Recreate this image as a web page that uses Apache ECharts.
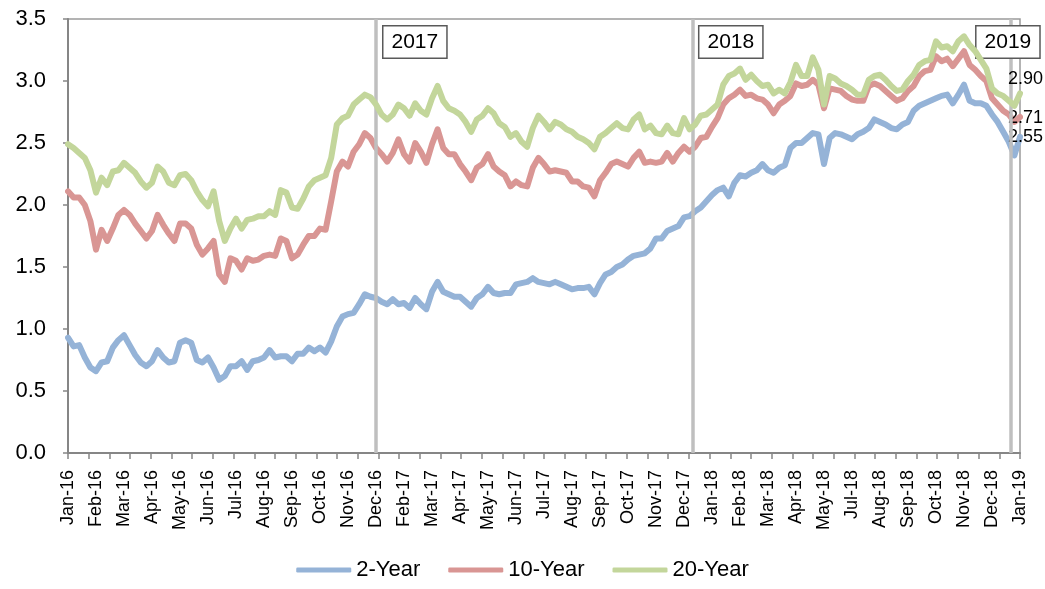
<!DOCTYPE html>
<html>
<head>
<meta charset="utf-8">
<script src="https://cdn.jsdelivr.net/npm/echarts@6/dist/echarts.min.js"></script>
<style>
  html, body { margin: 0; padding: 0; background: #fff; }
  #chart { width: 1045px; height: 589px; }
</style>
</head>
<body>
<div id="chart"></div>
<script>
// ---- data ----
const seriesNames = ['2-Year', '10-Year', '20-Year'];

const tickLabels = ['Jan-16','Feb-16','Mar-16','Apr-16','May-16','Jun-16','Jul-16','Aug-16','Sep-16','Oct-16','Nov-16','Dec-16',
  'Feb-17','Mar-17','Apr-17','May-17','Jun-17','Jul-17','Aug-17','Sep-17','Oct-17','Nov-17','Dec-17',
  'Jan-18','Feb-18','Mar-18','Apr-18','May-18','Jul-18','Aug-18','Sep-18','Oct-18','Nov-18','Dec-18','Jan-19'];

const minorTickCount = 47;

const yearNames = ['2017', '2018', '2019'];
const yearStartIndex = [55.0, 111.6, 168.4];

const twoYear = [
  0.93,0.86,0.87,0.77,0.69,0.66,0.73,0.74,0.85,0.91, 0.95,0.87,0.79,0.73,0.70,0.74,0.83,0.77,0.73,0.74,
  0.89,0.91,0.89,0.75,0.73,0.77,0.69,0.59,0.62,0.70, 0.70,0.74,0.67,0.74,0.75,0.77,0.83,0.77,0.78,0.78,
  0.74,0.80,0.80,0.85,
  0.82,0.85,0.81,0.90,1.02,1.10,1.12,1.13,1.20,1.28, 1.26,1.25,1.22,1.20,1.24,1.20,1.21,1.17,1.25,1.20,
  1.16,1.30,1.38,1.30,1.28,1.26,1.26,1.22,1.18,1.25, 1.28,1.34,1.29,1.28,1.29,1.29,1.36,1.37,1.38,1.41,
  1.38,1.37,1.36,
  1.38,1.36,1.34,1.32,1.33,1.33,1.34,1.28,1.37,1.44, 1.46,1.50,1.52,1.56,1.59,1.60,1.61,1.65,1.73,1.73,
  1.79,1.81,1.83,1.90,1.91,1.95,1.98,2.03,2.08,2.12, 2.14,2.07,2.18,2.24,2.23,2.26,2.28,2.33,2.28,2.26,
  2.30,
  2.32,2.46,2.50,2.50,2.54,2.58,2.57,2.33,2.54,2.58, 2.57,2.55,2.53,2.57,2.59,2.62,2.69,2.67,2.65,2.62,
  2.61,2.65,2.67,2.76,2.80,2.82,2.84,2.86,2.88,2.89, 2.82,2.89,2.97,2.84,2.82,2.82,2.80,2.73,2.67,2.59,
  2.51,2.40,2.55
];

const tenYear = [
  2.11,2.06,2.06,2.00,1.87,1.64,1.80,1.71,1.81,1.92, 1.96,1.92,1.85,1.79,1.73,1.79,1.92,1.84,1.77,1.71,
  1.85,1.85,1.81,1.68,1.60,1.65,1.71,1.44,1.38,1.57, 1.55,1.48,1.57,1.55,1.56,1.59,1.60,1.59,1.73,1.71,
  1.57,1.60,1.68,1.75,
  1.75,1.81,1.80,2.03,2.27,2.35,2.31,2.43,2.49,2.58, 2.54,2.46,2.41,2.35,2.42,2.53,2.41,2.35,2.50,2.43,
  2.34,2.49,2.61,2.46,2.41,2.41,2.33,2.27,2.20,2.30, 2.33,2.41,2.31,2.27,2.24,2.15,2.19,2.16,2.15,2.30,
  2.38,2.33,2.27,
  2.28,2.27,2.26,2.19,2.19,2.15,2.14,2.07,2.20,2.26, 2.33,2.35,2.33,2.31,2.38,2.43,2.34,2.35,2.34,2.35,
  2.42,2.35,2.42,2.47,2.43,2.47,2.54,2.55,2.63,2.70, 2.81,2.86,2.89,2.93,2.88,2.89,2.86,2.85,2.81,2.74,
  2.81,
  2.84,2.88,2.98,2.96,2.97,3.01,2.97,2.78,2.94,2.93, 2.92,2.88,2.85,2.84,2.84,2.96,2.98,2.96,2.92,2.88,
  2.84,2.86,2.92,2.96,3.04,3.08,3.09,3.20,3.16,3.18, 3.12,3.18,3.24,3.13,3.09,3.04,3.00,2.86,2.81,2.76,
  2.73,2.67,2.71
];

const twentyYear = [
  2.49,2.46,2.42,2.38,2.28,2.10,2.22,2.16,2.27,2.28, 2.34,2.30,2.26,2.19,2.14,2.18,2.31,2.27,2.18,2.16,
  2.24,2.25,2.20,2.11,2.04,1.99,2.11,1.87,1.71,1.81, 1.89,1.81,1.88,1.89,1.91,1.91,1.95,1.92,2.12,2.10,
  1.98,1.97,2.05,2.15,
  2.20,2.22,2.24,2.38,2.65,2.70,2.72,2.81,2.85,2.89, 2.87,2.81,2.73,2.69,2.73,2.81,2.78,2.72,2.82,2.76,
  2.73,2.86,2.96,2.84,2.78,2.76,2.73,2.67,2.59,2.69, 2.72,2.78,2.74,2.66,2.63,2.55,2.58,2.51,2.47,2.62,
  2.72,2.67,2.61,
  2.67,2.65,2.61,2.59,2.55,2.53,2.50,2.45,2.55,2.58, 2.62,2.66,2.62,2.61,2.69,2.73,2.61,2.64,2.58,2.57,
  2.64,2.58,2.57,2.70,2.61,2.65,2.72,2.73,2.77,2.81, 2.97,3.04,3.06,3.10,3.01,3.05,3.00,2.96,2.97,2.90,
  2.93,
  2.90,2.99,3.13,3.04,3.04,3.19,3.09,2.81,3.04,3.02, 2.98,2.96,2.93,2.89,2.89,3.01,3.04,3.05,3.01,2.96,
  2.92,2.93,3.00,3.05,3.13,3.16,3.17,3.32,3.27,3.28, 3.24,3.32,3.36,3.29,3.24,3.17,3.10,2.94,2.90,2.88,
  2.84,2.80,2.90
];

// ---- chart ----
const FONT = '"Liberation Sans", Arial, sans-serif';
const AXIS_GRAY = '#868686';
const colors = ['#95B3D7', '#D99694', '#C3D69B'];
const endLabelOffsets = [[-12, 0], [-12, 1], [-12, -14]];
const yearBoxOffsets = [[8, 8], [7, 8], [-34, 8]];
const allSeries = [twoYear, tenYear, twentyYear];
const lastIndex = twoYear.length - 1;

const chart = echarts.init(document.getElementById('chart'), null, { renderer: 'canvas' });

const lineSeries = allSeries.map((vals, k) => ({
  name: seriesNames[k],
  type: 'line',
  xAxisIndex: 0,
  yAxisIndex: 0,
  data: vals.map((v, i) => [i, v]),
  symbol: 'none',
  z: 3 + k,
  lineStyle: { width: 6, color: colors[k], cap: 'round', join: 'round' },
  itemStyle: { color: colors[k] },
  endLabel: {
    show: true,
    distance: 0,
    offset: endLabelOffsets[k],
    formatter: p => p.value[1].toFixed(2),
    fontFamily: FONT,
    fontSize: 18,
    color: '#000'
  }
}));

const option = {
  animation: false,
  backgroundColor: '#fff',
  grid: {
    left: 68, right: 25, top: 19, bottom: 136,
    show: true, borderColor: '#9a9a9a', borderWidth: 1.5, backgroundColor: 'transparent'
  },
  legend: {
    data: seriesNames,
    left: 'center',
    top: 554,
    icon: 'roundRect',
    itemWidth: 55,
    itemHeight: 5,
    itemGap: 28,
    textStyle: { fontFamily: FONT, fontSize: 22, color: '#000' }
  },
  xAxis: [
    { type: 'value', min: 0, max: lastIndex, show: false },
    {
      type: 'category', data: tickLabels, boundaryGap: false, position: 'bottom',
      axisLine: { show: false }, axisTick: { show: false }, splitLine: { show: false },
      axisLabel: { interval: 0, rotate: 90, margin: 17, fontFamily: FONT, fontSize: 18, color: '#000' }
    },
    {
      type: 'category', data: Array.from({ length: minorTickCount }, () => ''), boundaryGap: false, position: 'bottom',
      axisLine: { show: true, lineStyle: { color: AXIS_GRAY, width: 2 } },
      axisTick: { show: true, interval: 0, length: 6, lineStyle: { color: AXIS_GRAY, width: 1.5 } },
      axisLabel: { show: false }, splitLine: { show: false }
    }
  ],
  yAxis: {
    type: 'value', min: 0, max: 3.5, interval: 0.5,
    axisLine: { show: true, lineStyle: { color: AXIS_GRAY, width: 2 } },
    axisTick: { show: true, length: 5, lineStyle: { color: AXIS_GRAY, width: 1.5 } },
    splitLine: { show: false },
    axisLabel: { margin: 22, fontFamily: FONT, fontSize: 22, color: '#000', formatter: v => v.toFixed(1) }
  },
  series: [
    {
      name: 'yearLines', type: 'line', xAxisIndex: 0, yAxisIndex: 0, data: [], z: 1, silent: true,
      markLine: {
        silent: true, symbol: ['none', 'none'], animation: false,
        label: { show: false },
        lineStyle: { color: '#BFBFBF', width: 3.5, type: 'solid' },
        data: yearStartIndex.map(x => ({ xAxis: x }))
      }
    },
    ...lineSeries,
    {
      name: 'yearBoxes', type: 'line', xAxisIndex: 0, yAxisIndex: 0, data: [], z: 10, silent: true,
      markPoint: {
        silent: true, animation: false,
        symbol: 'circle', symbolSize: 1,
        itemStyle: { color: 'rgba(0,0,0,0)' },
        label: {
          show: true, formatter: '{b}', align: 'left', verticalAlign: 'top',
          fontFamily: FONT, fontSize: 21, lineHeight: 23, color: '#000',
          backgroundColor: '#fff', borderColor: '#595959', borderWidth: 1.5,
          padding: [4, 8, 4, 8]
        },
        data: yearNames.map((name, k) => ({
          name: name,
          coord: [yearStartIndex[k], 3.5],
          label: { position: yearBoxOffsets[k] }
        }))
      }
    }
  ]
};

chart.setOption(option);
</script>
</body>
</html>
